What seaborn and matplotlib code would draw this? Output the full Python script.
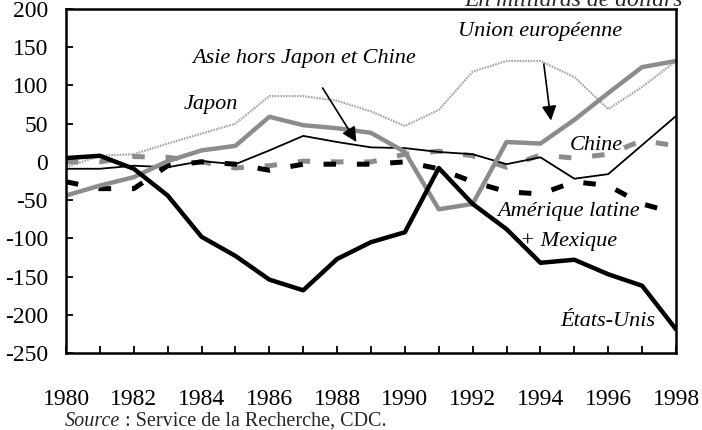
import matplotlib
matplotlib.use('Agg')
import matplotlib.pyplot as plt
import pandas as pd
import seaborn as sns

# Balances commerciales, en milliards de dollars
years = list(range(1980, 1999))
etats_unis = [5, 8, -9, -44, -98, -123, -154, -168, -127, -105, -92, -8, -55, -88, -132, -128, -147, -162, -219]
japon = [-7, 8, 10, 24, 37, 50, 86, 86, 80, 66, 47, 68, 118, 132, 132, 111, 69, 98, 132]
union_europeenne = [-44, -31, -20, 1, 15, 21, 59, 48, 44, 38, 13, -62, -55, 26, 24, 55, 90, 124, 132]
asie_hors_japon_chine = [-9, -9, -5, -7, 1, -3, 15, 34, 26, 19, 18, 13, 10, -3, 6, -22, -16, 22, 60]
chine = [0, 0, 7, 6, 0, -8, -5, 1, 0, 0, 10, 14, 8, -7, 9, 5, 10, 28, 21]
amerique_latine = [-26, -35, -35, -5, 0, -3, -11, -3, -3, -3, 0, -9, -26, -39, -42, -26, -31, -55, -67]

y_ticks = list(range(-250, 201, 50))
x_labels = [str(y) if y % 2 == 0 else '' for y in years]

df = pd.DataFrame({
    'annee': years,
    'Japon': japon,
    'Chine': chine,
    'Amérique latine': amerique_latine,
    'Asie': asie_hors_japon_chine,
    'Union européenne': union_europeenne,
    'États-Unis': etats_unis,
})

sns.set_theme(style='white')
plt.rcParams['font.family'] = ['Liberation Serif', 'DejaVu Serif']
plt.rcParams['axes.unicode_minus'] = False
plt.rcParams['lines.scale_dashes'] = False

fig = plt.figure(figsize=(7.02, 4.30), dpi=100)
ax = fig.add_axes([66 / 702, 77 / 430, 610 / 702, 344 / 430])

styles = {
    'Japon': dict(color='#a6a6a6', lw=1.6, ls=(0, (1.2, 0.8))),
    'Chine': dict(color='#8c8c8c', lw=3.6, ls=(0, (9, 15))),
    'Amérique latine': dict(color='black', lw=3.6, ls=(0, (9, 15))),
    'Asie': dict(color='black', lw=1.3, ls='-'),
    'Union européenne': dict(color='#8c8c8c', lw=3.2, ls='-'),
    'États-Unis': dict(color='black', lw=3.2, ls='-'),
}
for name, st in styles.items():
    sns.lineplot(data=df, x='annee', y=name, ax=ax, color=st['color'],
                 linewidth=st['lw'], linestyle=st['ls'])

ax.set_xlim(1980, 1998)
ax.set_ylim(-250, 200)
ax.set_xticks(years, labels=x_labels)
ax.set_yticks(y_ticks)
ax.set_xlabel('')
ax.set_ylabel('')
ax.tick_params(axis='x', direction='in', length=5, width=1.3, pad=26,
               labelsize=17, bottom=True, colors='black')
ax.tick_params(axis='y', direction='in', length=5, width=1.3, pad=13,
               labelsize=17, left=True, colors='black')
for sp in ax.spines.values():
    sp.set_visible(True)
    sp.set_color('black')
    sp.set_linewidth(1.8)

lab = dict(fontsize=16, style='italic', color='black')
ax.annotate('Asie hors Japon et Chine', xy=(1988.57, 26), xytext=(1987.03, 135),
            ha='center', va='center', **lab,
            arrowprops=dict(arrowstyle='-|>', color='black', lw=1.2,
                            mutation_scale=22, shrinkA=14, shrinkB=0))
ax.annotate('Union européenne', xy=(1994.31, 54), xytext=(1993.98, 170),
            ha='center', va='center', **lab,
            arrowprops=dict(arrowstyle='-|>', color='black', lw=1.2,
                            mutation_scale=22, shrinkA=14, shrinkB=0))
ax.text(1984.26, 75, 'Japon', ha='center', va='center', **lab)
ax.text(1995.64, 21, 'Chine', ha='center', va='center', **lab)
ax.text(1992.71, -65, 'Amérique latine', ha='left', va='center', **lab)
ax.text(1993.39, -104, '+ Mexique', ha='left', va='center', **lab)
ax.text(1995.99, -209, 'États-Unis', ha='center', va='center', **lab)

# titre d'unité, coupé en haut comme dans l'original
fig.text(683 / 702, (430 - 6) / 430, 'En milliards de dollars', ha='right',
         va='baseline', fontsize=17, style='italic')

src = fig.text(65 / 702, 4 / 430, 'Source', ha='left', va='baseline',
               fontsize=14.5, style='italic')
ax.annotate(' : Service de la Recherche, CDC.', xy=(1, 0), xycoords=src,
            ha='left', va='bottom', fontsize=14.5, annotation_clip=False)

fig.savefig('out.png', dpi=100)
